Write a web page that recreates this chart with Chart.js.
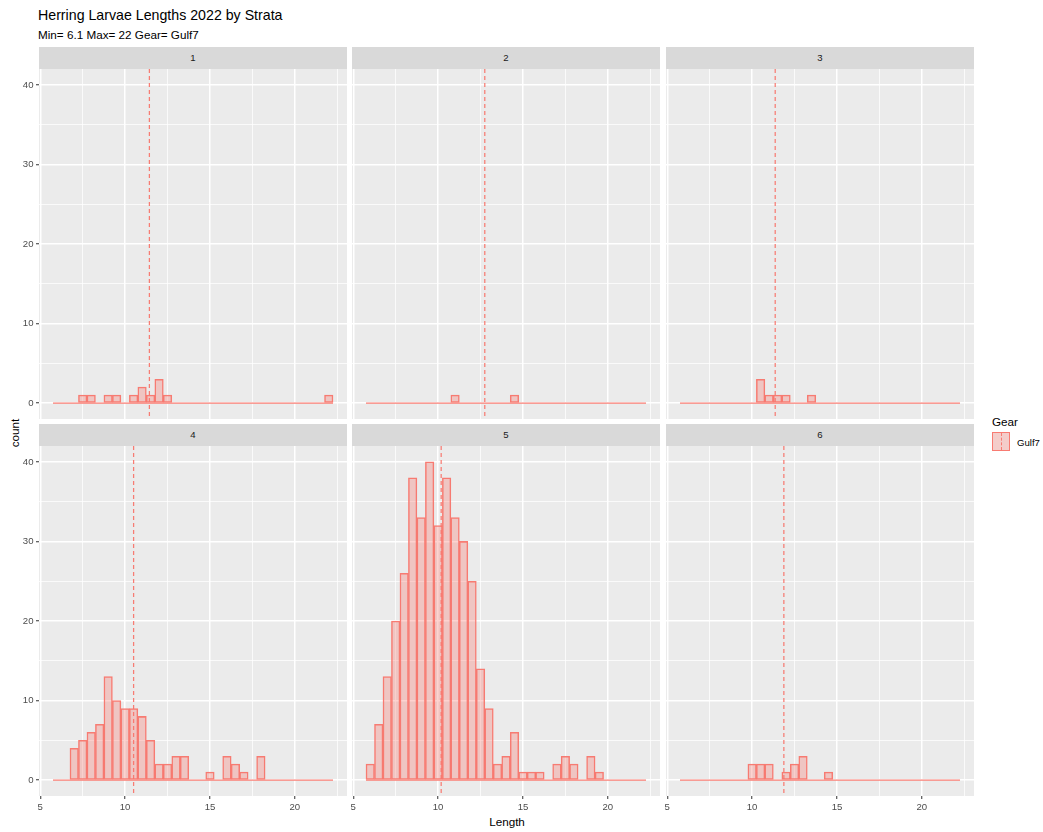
<!DOCTYPE html>
<html><head><meta charset="utf-8">
<script src="https://cdn.jsdelivr.net/npm/chart.js@4.4.0/dist/chart.umd.min.js"></script>
<style>
body{margin:0;background:#fff;}
#wrap{position:relative;width:1043px;height:832px;overflow:hidden;font-family:"Liberation Sans",Arial,sans-serif;background:#fff;}
.txt{position:absolute;white-space:nowrap;}
.strip{position:absolute;background:#D9D9D9;color:#1A1A1A;font-size:9.6px;text-align:center;}
canvas{position:absolute;}
</style></head><body><div id="wrap"></div>
<script>
// ---------------- data ----------------
const titleText = 'Herring Larvae Lengths 2022 by Strata';
const subtitleText = 'Min= 6.1 Max= 22 Gear= Gulf7';
const xTitle = 'Length';
const yTitle = 'count';
const legendTitle = 'Gear';
const legendLabel = 'Gulf7';
const strataNames = ['1', '2', '3', '4', '5', '6'];
const binWidth = 0.5;
const binCenters = [6.0, 6.5, 7.0, 7.5, 8.0, 8.5, 9.0, 9.5, 10.0, 10.5, 11.0, 11.5, 12.0, 12.5, 13.0, 13.5, 14.0,
                    14.5, 15.0, 15.5, 16.0, 16.5, 17.0, 17.5, 18.0, 18.5, 19.0, 19.5, 20.0, 20.5, 21.0, 21.5, 22.0];
const counts1 = [0,0,0,1,1,0,1,1,0,1,2,1,3,1,0,0,0,0,0,0,0,0,0,0,0,0,0,0,0,0,0,0,1];
const counts2 = [0,0,0,0,0,0,0,0,0,0,1,0,0,0,0,0,0,1,0,0,0,0,0,0,0,0,0,0,0,0,0,0,0];
const counts3 = [0,0,0,0,0,0,0,0,0,3,1,1,1,0,0,1,0,0,0,0,0,0,0,0,0,0,0,0,0,0,0,0,0];
const counts4 = [0,0,4,5,6,7,13,10,9,9,8,5,2,2,3,3,0,0,1,0,3,2,1,0,3,0,0,0,0,0,0,0,0];
const counts5 = [2,7,13,20,26,38,33,40,32,38,33,30,25,14,9,2,3,6,1,1,1,0,2,3,2,0,3,1,0,0,0,0,0];
const counts6 = [0,0,0,0,0,0,0,0,2,2,2,0,1,2,3,0,0,1,0,0,0,0,0,0,0,0,0,0,0,0,0,0,0];
const strataMeans = [11.43, 12.75, 11.36, 10.5, 10.18, 11.87];
const xMajorTicks = [5, 10, 15, 20];
const xMinorTicks = [7.5, 12.5, 17.5, 22.5];
const yMajorTicks = [0, 10, 20, 30, 40];
const yMinorTicks = [5, 15, 25, 35];

// ---------------- layout / style ----------------
const allCounts = [counts1, counts2, counts3, counts4, counts5, counts6];
const X_MIN = 4.925, X_MAX = 23.075, Y_MIN = -2, Y_MAX = 42;
const colLeft = [39, 352, 666];
const panelW = 308;
const stripTop = [47, 424];
const stripH = 22;
const plotTop = [69, 446];
const plotH = [350, 350];
const FONT = '"Liberation Sans", Arial, sans-serif';
const RED = 'rgba(248,118,109,0.95)';
const FILL = 'rgba(248,118,109,0.32)';

const wrap = document.getElementById('wrap');
function addText(txt, css) {
  const d = document.createElement('div');
  d.className = 'txt';
  d.textContent = txt;
  Object.assign(d.style, css);
  wrap.appendChild(d);
  return d;
}

addText(titleText, {left: '38px', top: '7px', fontSize: '14.2px', lineHeight: '17px', color: '#000'});
addText(subtitleText, {left: '38px', top: '28px', fontSize: '11.7px', lineHeight: '14px', color: '#000'});
addText(xTitle, {left: '457px', width: '100px', textAlign: 'center', top: '815px', fontSize: '11.7px', lineHeight: '14px', color: '#000'});
addText(yTitle, {left: '-15px', width: '60px', textAlign: 'center', top: '426px', fontSize: '11.7px', lineHeight: '14px', color: '#000', transform: 'rotate(-90deg)'});
addText(legendTitle, {left: '992px', top: '415px', fontSize: '11.7px', lineHeight: '14px', color: '#000'});
addText(legendLabel, {left: '1017px', top: '436px', fontSize: '9.6px', lineHeight: '14px', color: '#000'});
const key = document.createElement('div');
Object.assign(key.style, {position: 'absolute', left: '992px', top: '432px', width: '18px', height: '19px', boxSizing: 'border-box',
  background: 'rgb(244,205,202)', border: '1px solid ' + RED});
const keyLine = document.createElement('div');
Object.assign(keyLine.style, {position: 'absolute', left: '8px', top: '0px', width: '0px', height: '17px', borderLeft: '1px dashed ' + RED});
key.appendChild(keyLine);
wrap.appendChild(key);

const bgPlugin = {
  id: 'panelBg',
  beforeDraw(chart) {
    const {ctx, chartArea: a} = chart;
    ctx.save();
    ctx.fillStyle = '#EBEBEB';
    ctx.fillRect(a.left, a.top, a.right - a.left, a.bottom - a.top);
    ctx.restore();
  }
};
function meanPlugin(mean) {
  return {
    id: 'meanLine',
    afterDatasetsDraw(chart) {
      const {ctx, chartArea: a} = chart;
      const x = chart.scales.x.getPixelForValue(mean);
      ctx.save();
      ctx.strokeStyle = 'rgba(248,118,109,0.95)';
      ctx.lineWidth = 1.25;
      ctx.setLineDash([4, 3]);
      ctx.beginPath();
      ctx.moveTo(x, a.top);
      ctx.lineTo(x, a.bottom);
      ctx.stroke();
      ctx.restore();
    }
  };
}

function makePanel(idx) {
  const col = idx % 3, row = Math.floor(idx / 3);
  const counts = allCounts[idx];
  const s = document.createElement('div');
  s.className = 'strip';
  s.textContent = strataNames[idx];
  Object.assign(s.style, {left: colLeft[col] + 'px', width: panelW + 'px', top: stripTop[row] + 'px',
    height: stripH + 'px', lineHeight: stripH + 'px'});
  wrap.appendChild(s);

  const padL = col === 0 ? 39 : 8;
  const axisH = row === 1 ? 24 : 0;
  const w = panelW + padL, h = plotH[row] + axisH;
  const cv = document.createElement('canvas');
  cv.width = w; cv.height = h;
  Object.assign(cv.style, {left: (colLeft[col] - padL) + 'px', top: plotTop[row] + 'px', width: w + 'px', height: h + 'px'});
  wrap.appendChild(cv);

  const showX = row === 1, showY = col === 0;
  new Chart(cv, {
    type: 'bar',
    data: {
      datasets: [
        {type: 'line', order: 0,
         data: [{x: binCenters[0] - binWidth / 2, y: 0}, {x: binCenters[binCenters.length - 1] + binWidth / 2, y: 0}],
         borderColor: RED, borderWidth: 1.2, pointRadius: 0, fill: false},
        {type: 'bar', order: 1,
         data: binCenters.map((c, i) => ({x: c, y: counts[i]})),
         backgroundColor: FILL, borderColor: RED, borderWidth: 0.85, borderSkipped: false,
         barPercentage: 1, categoryPercentage: 1}
      ]
    },
    options: {
      responsive: false, animation: false, maintainAspectRatio: false,
      layout: {padding: 0},
      plugins: {legend: {display: false}, tooltip: {enabled: false}, title: {display: false}},
      scales: {
        x: {
          type: 'linear', min: X_MIN, max: X_MAX, offset: false,
          afterBuildTicks: sc => { sc.ticks = [...xMajorTicks, ...xMinorTicks].sort((a, b) => a - b).map(v => ({value: v})); },
          afterFit: sc => { sc.height = axisH; sc.paddingLeft = 0; sc.paddingRight = 0; },
          border: {display: false},
          grid: {
            offset: false, color: '#FFFFFF',
            lineWidth: c => (xMajorTicks.includes(c.tick.value) ? 1.5 : 0.75),
            drawTicks: showX, tickLength: 3, tickWidth: 1,
            tickColor: c => (xMajorTicks.includes(c.tick.value) ? '#333333' : 'rgba(0,0,0,0)')
          },
          ticks: {
            display: showX, autoSkip: false, maxRotation: 0, padding: 3, color: '#4D4D4D',
            font: {family: FONT, size: 9.6},
            callback: v => (xMajorTicks.includes(v) ? String(v) : '')
          }
        },
        y: {
          type: 'linear', min: Y_MIN, max: Y_MAX,
          afterBuildTicks: sc => { sc.ticks = [...yMajorTicks, ...yMinorTicks].sort((a, b) => a - b).map(v => ({value: v})); },
          afterFit: sc => { sc.width = padL; sc.paddingTop = 0; sc.paddingBottom = 0; },
          border: {display: false},
          grid: {
            color: '#FFFFFF',
            lineWidth: c => (yMajorTicks.includes(c.tick.value) ? 1.5 : 0.75),
            drawTicks: showY, tickLength: 3, tickWidth: 1,
            tickColor: c => (yMajorTicks.includes(c.tick.value) ? '#333333' : 'rgba(0,0,0,0)')
          },
          ticks: {
            display: showY, autoSkip: false, padding: 2.5, color: '#4D4D4D',
            font: {family: FONT, size: 9.6},
            callback: v => (yMajorTicks.includes(v) ? String(v) : '')
          }
        }
      }
    },
    plugins: [bgPlugin, meanPlugin(strataMeans[idx])]
  });
}

for (let i = 0; i < 6; i++) makePanel(i);
</script>
</body></html>
